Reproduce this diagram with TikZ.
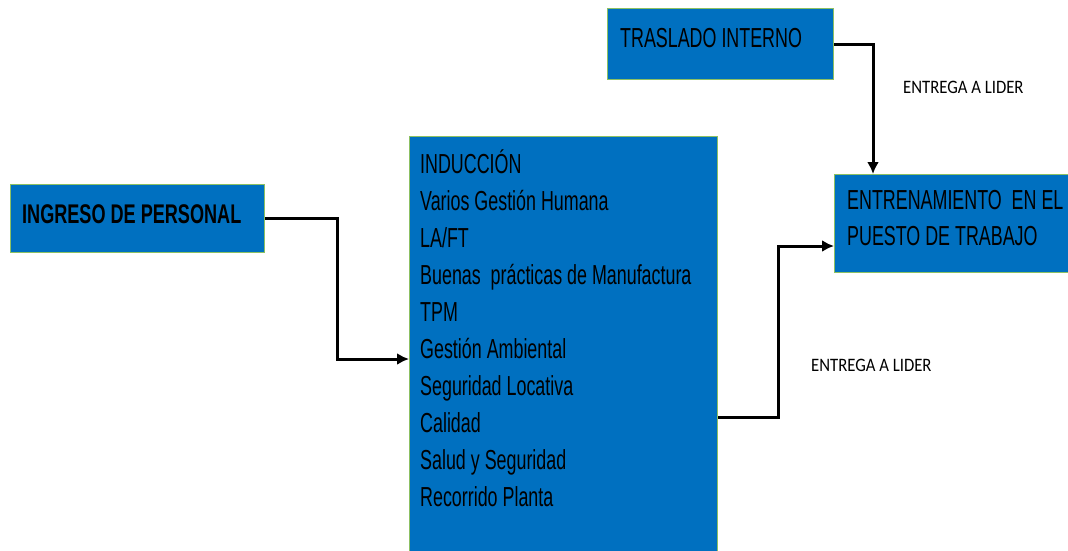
\documentclass[tikz,border=0pt]{standalone}
\usepackage{fontspec}
\usetikzlibrary{positioning,arrows.meta}
\newfontfamily\boxfont{Liberation Sans}[FakeStretch=0.65]
\newfontfamily\boxfontb{Liberation Sans}[FakeStretch=0.67]
\newfontfamily\notefont{Carlito}[FakeStretch=0.88]
\definecolor{boxblue}{HTML}{0070C0}
\definecolor{boxgreen}{HTML}{8CC063}

\tikzset{
  stagebox/.style={draw=boxgreen, line width=1pt, fill=boxblue, anchor=north west,
    align=left, inner sep=0pt},
  boxtext/.style={anchor=north west, align=left, inner sep=0pt,
    font=\boxfont\fontsize{27.5}{37}\selectfont},
  flow/.style={line width=3pt, -{Latex[length=12pt,width=12pt]}},
  note/.style={anchor=west, inner sep=0pt, font=\notefont\fontsize{19}{20}\selectfont}
}

\begin{document}
\begin{tikzpicture}[x=1pt,y=-1pt]
    \useasboundingbox (0,0) rectangle (1068,550);
    \clip (0,0) rectangle (1068,550);
    % boxes
    \node[stagebox, minimum width=254pt, minimum height=68pt] (ingreso) at (10,184) {};
    \node[anchor=west, inner sep=0pt, font=\boxfontb\bfseries\fontsize{27}{37}\selectfont]
        (ingresotxt) at (22,214) {INGRESO DE PERSONAL};
    \node[stagebox, minimum width=226pt, minimum height=71pt] (traslado) at (607,8) {};
    \node[boxtext, anchor=west] (trasladotxt) at (620,38) {TRASLADO INTERNO};
    \node[stagebox, minimum width=308pt, minimum height=430pt] (induccion) at (409,136) {};
    \node[boxtext] (induccionlist) at (420,149) {INDUCCIÓN\\
        Varios Gestión Humana\\
        LA/FT\\
        Buenas~ prácticas de Manufactura\\
        TPM\\
        Gestión Ambiental\\
        Seguridad Locativa\\
        Calidad\\
        Salud y Seguridad\\
        Recorrido Planta};
    \node[stagebox, minimum width=250pt, minimum height=98pt] (entren) at (834,174) {};
    \node[boxtext, font=\boxfont\fontsize{27.5}{36}\selectfont]
        (entrentxt) at (847,190) {ENTRENAMIENTO~ EN EL\\PUESTO DE TRABAJO};
    % connectors
    \draw[flow] (ingreso.east) -- ++(72,0) |- (induccion.west |- 0,359);
    \draw[flow] (induccion.east |- 0,417) -- ++(60,0) |- (entren.west |- 0,246);
    \draw[flow] (traslado.east) -| ([xshift=39pt]entren.north west);
    % labels
    \node[note] (lidera) at (903,87) {ENTREGA A LIDER};
    \node[note] (liderb) at (811,365) {ENTREGA A LIDER};
\end{tikzpicture}
\end{document}
